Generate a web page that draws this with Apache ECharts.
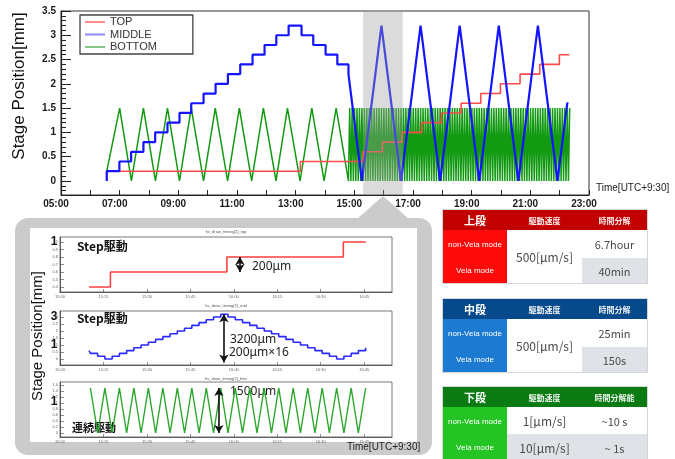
<!DOCTYPE html>
<html>
<head>
<meta charset="utf-8">
<script src="https://cdn.jsdelivr.net/npm/echarts@6/dist/echarts.min.js"></script>
<style>
html,body{margin:0;padding:0;background:#fff;}
#wrap{position:relative;width:675px;height:459px;overflow:hidden;background:#fff;font-family:"Noto Sans CJK JP","Noto Sans",sans-serif;}
#callout{position:absolute;left:15px;top:218px;width:417px;height:237px;background:#cbcbcb;border-radius:13px;}
#callout-tip{position:absolute;left:357px;top:196px;width:52px;height:23px;background:#cbcbcb;clip-path:polygon(50% 0,100% 100%,0 100%);}
#panel{position:absolute;left:30px;top:228px;width:387px;height:214px;background:#fff;}
#chart{position:absolute;left:0;top:0;width:675px;height:459px;}
.tbl{position:absolute;left:443px;width:204px;display:grid;grid-template-columns:64px 75px 65px;grid-template-rows:20px 28px 25px;box-shadow:0 0 0 1px #d6d6d6;background:#fff;}
.tbl div{display:flex;align-items:center;justify-content:center;white-space:nowrap;}
.hd{color:rgba(255,255,255,0.92);font-size:8px;font-weight:bold;}
.hd.big{font-size:11px;color:#fff;}
.mode{color:#fff;font-size:8px;font-family:"Liberation Sans","Noto Sans",sans-serif;}
.val{color:#4a4a4a;font-size:12px;}
.val.sm{font-size:11px;}
.gray{background:#dfe2e6;}
.line-b{border-bottom:1px solid #e4e4e4;}
</style>
</head>
<body>
<div id="wrap">
  <div id="callout"></div>
  <div id="callout-tip"></div>
  <div id="panel"></div>
  <div id="chart"></div>

  <div class="tbl" style="top:210px">
    <div class="hd big" style="background:#c20000">上段</div>
    <div class="hd" style="background:#c20000">駆動速度</div>
    <div class="hd" style="background:#c20000">時間分解</div>
    <div class="mode" style="background:#ff0a0a;grid-column:1;grid-row:2">non-Vela mode</div>
    <div class="val" style="grid-column:2;grid-row:2/4">500[μm/s]</div>
    <div class="val sm" style="grid-column:3;grid-row:2">6.7hour</div>
    <div class="mode" style="background:#ff0a0a;grid-column:1;grid-row:3">Vela mode</div>
    <div class="val sm gray" style="grid-column:3;grid-row:3">40min</div>
  </div>

  <div class="tbl" style="top:299px">
    <div class="hd big" style="background:#064a8c">中段</div>
    <div class="hd" style="background:#064a8c">駆動速度</div>
    <div class="hd" style="background:#064a8c">時間分解</div>
    <div class="mode" style="background:#1c7ad0;grid-column:1;grid-row:2">non-Vela mode</div>
    <div class="val" style="grid-column:2;grid-row:2/4">500[μm/s]</div>
    <div class="val sm" style="grid-column:3;grid-row:2">25min</div>
    <div class="mode" style="background:#1c7ad0;grid-column:1;grid-row:3">Vela mode</div>
    <div class="val sm gray" style="grid-column:3;grid-row:3">150s</div>
  </div>

  <div class="tbl" style="top:387px">
    <div class="hd big" style="background:#0a7a12">下段</div>
    <div class="hd" style="background:#0a7a12">駆動速度</div>
    <div class="hd" style="background:#0a7a12">時間分解能</div>
    <div class="mode" style="background:#24c424;grid-column:1;grid-row:2">non-Vela mode</div>
    <div class="val line-b" style="grid-column:2;grid-row:2">1[μm/s]</div>
    <div class="val sm line-b" style="grid-column:3;grid-row:2">~10 s</div>
    <div class="mode" style="background:#24c424;grid-column:1;grid-row:3">Vela mode</div>
    <div class="val gray" style="grid-column:2;grid-row:3">10[μm/s]</div>
    <div class="val sm gray" style="grid-column:3;grid-row:3">~ 1s</div>
  </div>
</div>

<script>
// ---- axis ticks / labels (hours of the day, stage position in mm) ----
const hourTicks = [5,6,7,8,9,10,11,12,13,14,15,16,17,18,19,20,21,22,23];
const hourLabels = [5,7,9,11,13,15,17,19,21,23];
const positionLabels = [0,0.5,1,1.5,2,2.5,3,3.5];
const zoomTicks = [15,15.25,15.5,15.75,16,16.25,16.5,16.75];

// ---- TOP stage: level changes (hour, mm) ----
const topTimes  = [6.56, 6.56, 13.16, 15.29, 15.96, 16.63, 17.30, 17.97, 18.64, 19.31, 19.98, 20.65, 21.32, 21.99, 22.33];
const topLevels = [0,    0.2,  0.4,   0.6,   0.8,   1.0,   1.2,   1.4,   1.6,   1.8,   2.0,   2.2,   2.4,   2.6,   2.6];

// ---- MIDDLE stage, non-Vela mode: level changes (hour, mm) ----
const middleTimes  = [6.56, 6.56, 6.99, 7.39, 7.81, 8.21, 8.63, 9.04, 9.44, 9.86, 10.27, 10.69, 11.11, 11.53, 11.94, 12.34, 12.76, 13.20, 13.60, 14.02, 14.42];
const middleLevels = [0,    0.2,  0.4,  0.6,  0.8,  1.0,  1.2,  1.4,  1.6,  1.8,  2.0,   2.2,   2.4,   2.6,   2.8,   3.0,   3.2,   3.0,   2.8,   2.6,   2.4];

// ---- Vela mode clock: one drive step every 150 s from 14:48 ----
const velaStart = 14.80;
const velaStepHours = 150 / 3600;

// MIDDLE stage level held during each Vela step (mm)
const middleVela = [
  2.2,2.0,1.8,1.6,1.4,1.2,1.0,0.8,0.6,0.4,0.2,
  0,0.2,0.4,0.6,0.8,1.0,1.2,1.4,1.6,1.8,2.0,2.2,2.4,2.6,2.8,3.0,3.2,3.0,2.8,2.6,2.4,2.2,2.0,1.8,1.6,1.4,1.2,1.0,0.8,0.6,0.4,0.2,
  0,0.2,0.4,0.6,0.8,1.0,1.2,1.4,1.6,1.8,2.0,2.2,2.4,2.6,2.8,3.0,3.2,3.0,2.8,2.6,2.4,2.2,2.0,1.8,1.6,1.4,1.2,1.0,0.8,0.6,0.4,0.2,
  0,0.2,0.4,0.6,0.8,1.0,1.2,1.4,1.6,1.8,2.0,2.2,2.4,2.6,2.8,3.0,3.2,3.0,2.8,2.6,2.4,2.2,2.0,1.8,1.6,1.4,1.2,1.0,0.8,0.6,0.4,0.2,
  0,0.2,0.4,0.6,0.8,1.0,1.2,1.4,1.6,1.8,2.0,2.2,2.4,2.6,2.8,3.0,3.2,3.0,2.8,2.6,2.4,2.2,2.0,1.8,1.6,1.4,1.2,1.0,0.8,0.6,0.4,0.2,
  0,0.2,0.4,0.6,0.8,1.0,1.2,1.4,1.6,1.8,2.0,2.2,2.4,2.6,2.8,3.0,3.2,3.0,2.8,2.6,2.4,2.2,2.0,1.8,1.6,1.4,1.2,1.0,0.8,0.6,0.4,0.2,
  0,0.2,0.4,0.6,0.8,1.0,1.2,1.4,1.6
];

// ---- BOTTOM stage, non-Vela mode: turning points (hour, mm) ----
const bottomTimes  = [6.56, 7.00, 7.40, 7.81, 8.22, 8.63, 9.04, 9.44, 9.86, 10.26, 10.68, 11.08, 11.50, 11.90, 12.33, 12.72, 13.15, 13.55, 13.97, 14.38];
const bottomLevels = [0.2,  1.5,  0,    1.5,  0,    1.5,  0,    1.5,  0,    1.5,   0,     1.5,   0,     1.5,   0,     1.5,   0,     1.5,   0,     1.5];

// BOTTOM stage turning points on the Vela clock (mm)
const bottomVela = [
  0,1.5,0,1.5,0,1.5,0,1.5,0,1.5,0,1.5,0,1.5,0,1.5,0,1.5,0,1.5,
  0,1.5,0,1.5,0,1.5,0,1.5,0,1.5,0,1.5,0,1.5,0,1.5,0,1.5,0,1.5,
  0,1.5,0,1.5,0,1.5,0,1.5,0,1.5,0,1.5,0,1.5,0,1.5,0,1.5,0,1.5,
  0,1.5,0,1.5,0,1.5,0,1.5,0,1.5,0,1.5,0,1.5,0,1.5,0,1.5,0,1.5,
  0,1.5,0,1.5,0,1.5,0,1.5,0,1.5,0,1.5,0,1.5,0,1.5,0,1.5,0,1.5,
  0,1.5,0,1.5,0,1.5,0,1.5,0,1.5,0,1.5,0,1.5,0,1.5,0,1.5,0,1.5,
  0,1.5,0,1.5,0,1.5,0,1.5,0,1.5,0,1.5,0,1.5,0,1.5,0,1.5,0,1.5,
  0,1.5,0,1.5,0,1.5,0,1.5,0,1.5,0,1.5,0,1.5,0,1.5,0,1.5,0,1.5,
  0,1.5,0,1.5,0,1.5,0,1.5,0,1.5,0,1.5,0,1.5,0,1.5,0,1.5,0,1.5,
  0,1.5
];

// highlighted interval and zoomed window (hours)
const bandRange = [15.30, 16.65];
const zoomWindow = [15.167, 16.76];

// ---- assemble series ----
const pairs = (ts, vs) => ts.map((t, i) => [t, vs[i]]);
const onClock = vs => vs.map((v, i) => [velaStart + i * velaStepHours, v]);

const topData = pairs(topTimes, topLevels);
const middleData = pairs(middleTimes, middleLevels)
  .concat(onClock(middleVela))
  .concat([[velaStart + middleVela.length * velaStepHours, middleVela[middleVela.length - 1]]]);
const bottomData = pairs(bottomTimes, bottomLevels).concat(onClock(bottomVela));

function clipSteps(pts, a, b) {
  let la = pts[0][1], lb = pts[0][1];
  pts.forEach(([t, v]) => { if (t <= a) la = v; if (t <= b) lb = v; });
  const out = [[a, la]];
  pts.forEach(([t, v]) => { if (t > a && t < b) out.push([t, v]); });
  out.push([b, lb]);
  return out;
}
const clipPoints = (pts, a, b) => pts.filter(([t]) => t >= a && t <= b);

const hh = v => (v < 10 ? '0' : '') + Math.floor(v) + ':' + (Math.round((v % 1) * 60) < 10 ? '0' : '') + Math.round((v % 1) * 60);

const minorY = [];
for (let k = -2; k <= 34; k++) if (k % 5 !== 0) minorY.push(k / 10);

const axisFont = { fontFamily: 'Liberation Sans', fontSize: 10, fontWeight: 'bold', color: '#1a1a1a' };
const tinyFont = { fontFamily: 'Liberation Sans', fontSize: 4, color: '#666' };

function zoomX(gi) {
  return {
    type: 'value', gridIndex: gi, min: 15, max: 16.91,
    axisLine: { onZero: false, lineStyle: { color: '#444', width: 0.8 } },
    axisTick: { inside: true, length: 3, customValues: zoomTicks, lineStyle: { color: '#444', width: 0.6 } },
    axisLabel: Object.assign({ customValues: zoomTicks, margin: 3, formatter: hh }, tinyFont),
    splitLine: { show: false }
  };
}
function zoomY(gi, min, max, ticks) {
  return {
    type: 'value', gridIndex: gi, min: min, max: max,
    axisLine: { onZero: false, lineStyle: { color: '#444', width: 0.8 } },
    axisTick: { inside: true, length: 4, customValues: ticks, lineStyle: { color: '#444', width: 0.6 } },
    axisLabel: Object.assign({ customValues: ticks, margin: 2 }, tinyFont),
    splitLine: { show: false }
  };
}
const arrowLine = (t, y0, y1) => ({
  silent: true, symbol: ['arrow', 'arrow'], symbolSize: [7, 8],
  label: { show: false },
  lineStyle: { color: '#111', width: 1.6, type: 'solid' },
  data: [[{ coord: [t, y0] }, { coord: [t, y1] }]]
});

const labelFont = '12px "Noto Sans", "Noto Sans CJK JP"';

const chart = echarts.init(document.getElementById('chart'), null, { renderer: 'canvas' });
chart.setOption({
  animation: false,
  backgroundColor: 'transparent',
  grid: [
    { left: 61, top: 11, width: 528, height: 184, show: true, borderColor: '#333', borderWidth: 1, backgroundColor: '#fff' },
    { left: 60, top: 237, width: 332, height: 55, show: true, borderColor: '#555', borderWidth: 0.8, backgroundColor: '#fff' },
    { left: 60, top: 311, width: 332, height: 54, show: true, borderColor: '#555', borderWidth: 0.8, backgroundColor: '#fff' },
    { left: 60, top: 382, width: 332, height: 55, show: true, borderColor: '#555', borderWidth: 0.8, backgroundColor: '#fff' }
  ],
  xAxis: [
    {
      type: 'value', gridIndex: 0, min: 5, max: 23,
      axisLine: { onZero: false, lineStyle: { color: '#222', width: 1.2 } },
      axisTick: { inside: true, length: 5, customValues: hourTicks, lineStyle: { color: '#222' } },
      axisLabel: Object.assign({ customValues: hourLabels, margin: 4, padding: [0, 10, 0, 0],
        formatter: v => (v < 10 ? '0' : '') + v + ':00' }, axisFont),
      splitLine: { show: false }
    },
    zoomX(1), zoomX(2), zoomX(3)
  ],
  yAxis: [
    {
      type: 'value', gridIndex: 0, min: -0.29, max: 3.5,
      axisLine: { onZero: false, lineStyle: { color: '#222', width: 1.2 } },
      axisTick: { inside: true, length: 10, customValues: positionLabels, lineStyle: { color: '#222' } },
      axisLabel: Object.assign({ customValues: positionLabels, margin: 5 }, axisFont),
      splitLine: { show: false }
    },
    {
      type: 'value', gridIndex: 0, min: -0.29, max: 3.5, position: 'left', offset: 0,
      axisLine: { show: false, onZero: false },
      axisTick: { inside: true, length: 5, customValues: minorY, lineStyle: { color: '#222' } },
      axisLabel: { show: false },
      splitLine: { show: false }
    },
    zoomY(1, 0.333, 1.067, [0.4,0.5,0.6,0.7,0.8,0.9,1.0]),
    zoomY(2, -0.43, 3.43, [0,0.5,1,1.5,2,2.5,3]),
    zoomY(3, -0.133, 1.7, [0,0.2,0.4,0.6,0.8,1,1.2,1.4,1.6])
  ],
  legend: {
    left: 80, top: 15, orient: 'vertical',
    data: [
      { name: 'TOP', itemStyle: { color: '#ff8a8a' } },
      { name: 'MIDDLE', itemStyle: { color: '#8a8aff' } },
      { name: 'BOTTOM', itemStyle: { color: '#86c886' } }
    ],
    icon: 'rect', itemWidth: 20, itemHeight: 2, itemGap: 0.5,
    padding: [1, 36, 1, 5],
    backgroundColor: '#fff', borderColor: '#444', borderWidth: 1.3, borderRadius: 0,
    textStyle: { fontFamily: 'Liberation Sans', fontSize: 11, color: '#333', lineHeight: 12 }
  },
  series: [
    {
      name: 'BOTTOM', type: 'line', xAxisIndex: 0, yAxisIndex: 0, data: bottomData,
      showSymbol: false, z: 2, lineStyle: { color: '#129a12', width: 1.5 }, itemStyle: { color: '#129a12' }
    },
    {
      name: 'TOP', type: 'line', xAxisIndex: 0, yAxisIndex: 0, data: topData, step: 'end',
      showSymbol: false, z: 3, lineStyle: { color: '#ff4a4a', width: 1.6 }, itemStyle: { color: '#ff4a4a' },
      markArea: {
        silent: true, z: 10,
        itemStyle: { color: 'rgba(160,160,160,0.38)' },
        data: [[{ xAxis: bandRange[0] }, { xAxis: bandRange[1] }]]
      }
    },
    {
      name: 'MIDDLE', type: 'line', xAxisIndex: 0, yAxisIndex: 0, data: middleData, step: 'end',
      showSymbol: false, z: 4, lineStyle: { color: '#1414ff', width: 2.2 }, itemStyle: { color: '#1414ff' }
    },
    {
      name: 'top (zoom)', type: 'line', xAxisIndex: 1, yAxisIndex: 2,
      data: clipSteps(topData, zoomWindow[0], zoomWindow[1]), step: 'end',
      showSymbol: false, lineStyle: { color: '#ff4040', width: 1.6 },
      markLine: arrowLine(16.035, 0.6, 0.8)
    },
    {
      name: 'middle (zoom)', type: 'line', xAxisIndex: 2, yAxisIndex: 3,
      data: clipSteps(middleData, zoomWindow[0], zoomWindow[1]), step: 'end',
      showSymbol: false, lineStyle: { color: '#2a2aff', width: 1.6 },
      markLine: arrowLine(15.943, -0.25, 3.2)
    },
    {
      name: 'bottom (zoom)', type: 'line', xAxisIndex: 3, yAxisIndex: 4,
      data: clipPoints(bottomData, zoomWindow[0], zoomWindow[1]),
      showSymbol: false, lineStyle: { color: '#2aa62a', width: 1.4 },
      markLine: arrowLine(15.914, 0, 1.5)
    }
  ],
  graphic: [
    { type: 'text', x: 19, y: 86, rotation: Math.PI / 2,
      style: { text: 'Stage Position[mm]', x: 0, y: 0, align: 'center', verticalAlign: 'middle', textAlign: 'center', textVerticalAlign: 'middle',
        font: '17px "Liberation Sans"', fill: '#111' } },
    { type: 'text', x: 596, y: 188,
      style: { text: 'Time[UTC+9:30]', x: 0, y: 0, verticalAlign: 'middle', textVerticalAlign: 'middle', font: '10px "Liberation Sans"', fill: '#222' } },

    { type: 'text', x: 37.5, y: 336, rotation: Math.PI / 2,
      style: { text: 'Stage Position[mm]', x: 0, y: 0, align: 'center', verticalAlign: 'middle', textAlign: 'center', textVerticalAlign: 'middle',
        font: '15px "Liberation Sans"', fill: '#111' } },
    { type: 'text', x: 226, y: 232, style: { text: 'hv_draw_timing(2)_top', x: 0, y: 0, align: 'center', textAlign: 'center', verticalAlign: 'middle', textVerticalAlign: 'middle', font: '4px "Liberation Sans"', fill: '#555' } },
    { type: 'text', x: 226, y: 306, style: { text: 'hv_draw_timing(2)_mid', x: 0, y: 0, align: 'center', textAlign: 'center', verticalAlign: 'middle', textVerticalAlign: 'middle', font: '4px "Liberation Sans"', fill: '#555' } },
    { type: 'text', x: 226, y: 379, style: { text: 'hv_draw_timing(2)_btm', x: 0, y: 0, align: 'center', textAlign: 'center', verticalAlign: 'middle', textVerticalAlign: 'middle', font: '4px "Liberation Sans"', fill: '#555' } },

    { type: 'text', x: 77, y: 246, style: { text: 'Step駆動', x: 0, y: 0, verticalAlign: 'middle', textVerticalAlign: 'middle', font: 'bold 12px "Noto Sans CJK JP"', fill: '#111' } },
    { type: 'text', x: 252, y: 267, style: { text: '200μm', x: 0, y: 0, verticalAlign: 'middle', textVerticalAlign: 'middle', font: labelFont, fill: '#222' } },
    { type: 'text', x: 77, y: 318, style: { text: 'Step駆動', x: 0, y: 0, verticalAlign: 'middle', textVerticalAlign: 'middle', font: 'bold 12px "Noto Sans CJK JP"', fill: '#111' } },
    { type: 'text', x: 230, y: 340, style: { text: '3200μm', x: 0, y: 0, verticalAlign: 'middle', textVerticalAlign: 'middle', font: labelFont, fill: '#222' } },
    { type: 'text', x: 229, y: 353, style: { text: '200μm×16', x: 0, y: 0, verticalAlign: 'middle', textVerticalAlign: 'middle', font: labelFont, fill: '#222' } },
    { type: 'text', x: 230, y: 392, style: { text: '1500μm', x: 0, y: 0, verticalAlign: 'middle', textVerticalAlign: 'middle', font: labelFont, fill: '#222' } },
    { type: 'text', x: 72, y: 428, style: { text: '連続駆動', x: 0, y: 0, verticalAlign: 'middle', textVerticalAlign: 'middle', font: 'bold 11px "Noto Sans CJK JP"', fill: '#111' } },

    { type: 'text', x: 54, y: 242, style: { text: '1', x: 0, y: 0, align: 'center', textAlign: 'center', verticalAlign: 'middle', textVerticalAlign: 'middle', font: 'bold 12px "Liberation Sans"', fill: '#111' } },
    { type: 'text', x: 54, y: 317, style: { text: '3', x: 0, y: 0, align: 'center', textAlign: 'center', verticalAlign: 'middle', textVerticalAlign: 'middle', font: 'bold 12px "Liberation Sans"', fill: '#111' } },
    { type: 'text', x: 54, y: 345, style: { text: '1', x: 0, y: 0, align: 'center', textAlign: 'center', verticalAlign: 'middle', textVerticalAlign: 'middle', font: 'bold 12px "Liberation Sans"', fill: '#111' } },
    { type: 'text', x: 54, y: 402, style: { text: '1', x: 0, y: 0, align: 'center', textAlign: 'center', verticalAlign: 'middle', textVerticalAlign: 'middle', font: 'bold 12px "Liberation Sans"', fill: '#111' } },
    { type: 'text', x: 347, y: 447, style: { text: 'Time[UTC+9:30]', x: 0, y: 0, verticalAlign: 'middle', textVerticalAlign: 'middle', font: '10px "Liberation Sans"', fill: '#222' } }
  ]
});
</script>
</body>
</html>
